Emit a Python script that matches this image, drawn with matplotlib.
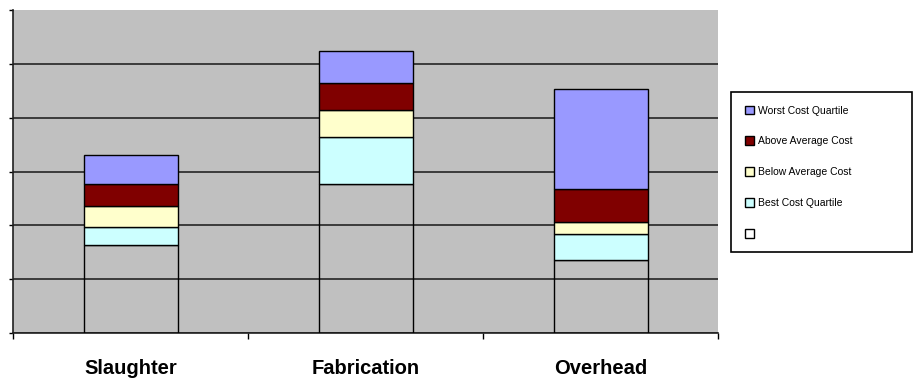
import matplotlib.pyplot as plt
import numpy as np
from matplotlib.ticker import FixedLocator

categories = ['Slaughter', 'Fabrication', 'Overhead']

# stacked segments, bottom to top (the base segment is unfilled)
base = [1.64, 2.77, 1.36]
best_q = [0.32, 0.87, 0.47]
below_avg = [0.39, 0.51, 0.23]
above_avg = [0.41, 0.49, 0.62]
worst_q = [0.54, 0.60, 1.85]

series = [
    ('', base, 'none'),
    ('Best Cost Quartile', best_q, '#CCFFFF'),
    ('Below Average Cost', below_avg, '#FFFFCC'),
    ('Above Average Cost', above_avg, '#800000'),
    ('Worst Cost Quartile', worst_q, '#9999FF'),
]

fig = plt.figure(figsize=(9.13, 3.82), dpi=100)
ax = fig.add_axes([13 / 913, 49 / 382, 705 / 913, 323 / 382])
ax.set_facecolor('#C0C0C0')

x = np.arange(len(categories))
bottom = np.zeros(len(categories))
handles = []
for label, vals, color in series:
    b = ax.bar(x, vals, width=0.4, bottom=bottom, color=color,
               edgecolor='black', linewidth=1, label=label, zorder=3)
    handles.append(b)
    bottom += np.array(vals)

ax.set_xlim(-0.5, 2.5)
ax.set_ylim(0, 6)

ax.yaxis.set_major_locator(FixedLocator(range(0, 7)))
ax.set_yticklabels([])
ax.grid(axis='y', color='#303030', linewidth=1.3, zorder=1)
ax.get_ygridlines()[-1].set_visible(False)
ax.tick_params(axis='y', length=3, width=1, direction='out')

ax.set_xticks(x)
ax.set_xticklabels(categories, fontsize=14.5, fontweight='bold',
                   family='Liberation Sans')
ax.tick_params(axis='x', which='major', length=0, pad=19)
ax.xaxis.set_minor_locator(FixedLocator([-0.5, 0.5, 1.5, 2.5]))
ax.tick_params(axis='x', which='minor', length=4, width=1, direction='out')

for side in ['top', 'right']:
    ax.spines[side].set_visible(False)
for side in ['left', 'bottom']:
    ax.spines[side].set_linewidth(1.2)
    ax.spines[side].set_color('#202020')

leg = fig.legend(handles[::-1], [s[0] for s in series[::-1]],
                 loc='upper left', mode='expand',
                 bbox_to_anchor=(731 / 913, 135 / 382, 181 / 913, 155 / 382),
                 prop={'family': 'Liberation Sans', 'size': 7.5},
                 handlelength=0.9, handleheight=0.9, handletextpad=0.4,
                 labelspacing=2.0, borderpad=1.3, fancybox=False,
                 framealpha=1, edgecolor='black', borderaxespad=0)
leg.get_frame().set_linewidth(1.2)

fig.savefig('out.png', dpi=100)
